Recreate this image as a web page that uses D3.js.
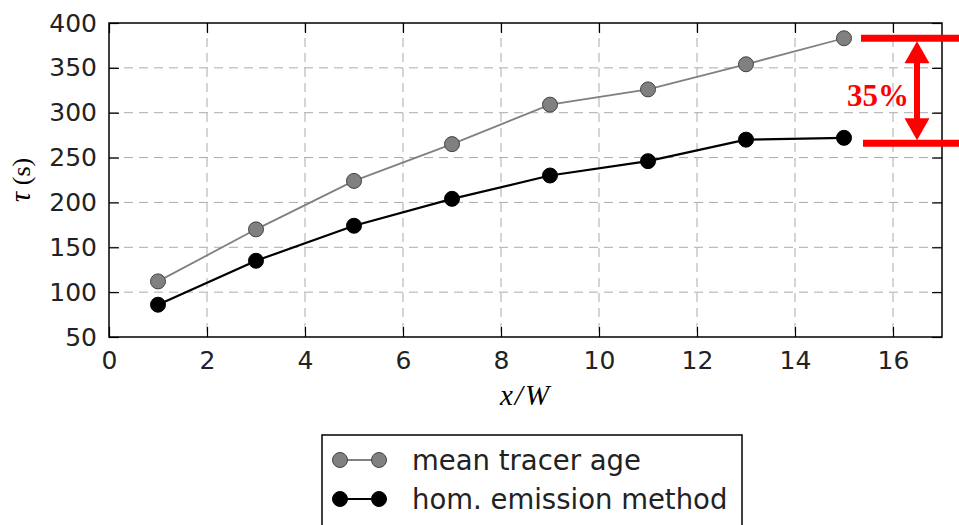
<!DOCTYPE html>
<html>
<head>
<meta charset="utf-8">
<script src="https://cdn.jsdelivr.net/npm/d3@7"></script>
<style>
  body { margin: 0; background: #fff; }
  svg { display: block; }
  .tick text { font-family: "DejaVu Sans", sans-serif; font-size: 25px; fill: #222; }
</style>
</head>
<body>
<script>
'use strict';

// data
var xPositions = [1, 3, 5, 7, 9, 11, 13, 15];
var meanTracerAge = [112, 170, 224, 265, 309, 326, 354, 383];
var homEmission = [86, 135, 174, 204, 230, 246, 270, 272];
var xTicks = [0, 2, 4, 6, 8, 10, 12, 14, 16];
var yTicks = [50, 100, 150, 200, 250, 300, 350, 400];
var seriesNames = ['mean tracer age', 'hom. emission method'];
// bracket marking the 35 % gap at x = 15
var gapTop = 383;
var gapBottom = 266;
var gapLabel = '35%';

var width = 959, height = 525;
var margin = {top: 23, right: 17, bottom: 188, left: 109};
var plotW = width - margin.left - margin.right;
var plotH = height - margin.top - margin.bottom;

var svg = d3.select('body').append('svg')
    .attr('width', width)
    .attr('height', height);

var x = d3.scaleLinear().domain([0, 17]).range([margin.left, margin.left + plotW]);
var y = d3.scaleLinear().domain([50, 400]).range([margin.top + plotH, margin.top]);

// grid lines
var grid = svg.append('g').attr('class', 'grid');
grid.selectAll('.gx')
    .data(xTicks.slice(1))
    .enter().append('line')
    .attr('x1', function(d) { return x(d); })
    .attr('x2', function(d) { return x(d); })
    .attr('y1', margin.top)
    .attr('y2', margin.top + plotH);
grid.selectAll('.gy')
    .data(yTicks.slice(1, -1))
    .enter().append('line')
    .attr('x1', margin.left)
    .attr('x2', margin.left + plotW)
    .attr('y1', function(d) { return y(d); })
    .attr('y2', function(d) { return y(d); });
grid.selectAll('line')
    .attr('stroke', '#aaa')
    .attr('stroke-width', 1)
    .attr('stroke-dasharray', '9,6');

// axes, ticks pointing inward
var bottomAxis = svg.append('g')
    .attr('transform', 'translate(0,' + (margin.top + plotH) + ')')
    .call(d3.axisBottom(x).tickValues(xTicks).tickSizeInner(-10).tickSizeOuter(0).tickPadding(14));
var leftAxis = svg.append('g')
    .attr('transform', 'translate(' + margin.left + ',0)')
    .call(d3.axisLeft(y).tickValues(yTicks).tickSizeInner(-10).tickSizeOuter(0).tickPadding(12));
var topAxis = svg.append('g')
    .attr('transform', 'translate(0,' + margin.top + ')')
    .call(d3.axisTop(x).tickValues(xTicks).tickSizeInner(-10).tickSizeOuter(0).tickFormat(''));
var rightAxis = svg.append('g')
    .attr('transform', 'translate(' + (margin.left + plotW) + ',0)')
    .call(d3.axisRight(y).tickValues(yTicks).tickSizeInner(-10).tickSizeOuter(0).tickFormat(''));
[bottomAxis, leftAxis, topAxis, rightAxis].forEach(function(a) {
    a.select('.domain').remove();
    a.selectAll('.tick line').attr('stroke', '#000').attr('stroke-width', 1.2);
});
bottomAxis.selectAll('.tick text').attr('dy', '0.72em');

// frame
svg.append('rect')
    .attr('x', margin.left)
    .attr('y', margin.top)
    .attr('width', plotW)
    .attr('height', plotH)
    .attr('fill', 'none')
    .attr('stroke', '#000')
    .attr('stroke-width', 1.5);

// series
var series = [
    {name: seriesNames[0], values: meanTracerAge, line: '#808080', lw: 1.8, fill: '#808080', edge: '#444'},
    {name: seriesNames[1], values: homEmission, line: '#000', lw: 2.2, fill: '#000', edge: '#000'}
];
var line = d3.line()
    .x(function(d) { return x(d[0]); })
    .y(function(d) { return y(d[1]); });

series.forEach(function(s) {
    var pts = xPositions.map(function(xv, i) { return [xv, s.values[i]]; });
    svg.append('path')
        .datum(pts)
        .attr('d', line)
        .attr('fill', 'none')
        .attr('stroke', s.line)
        .attr('stroke-width', s.lw);
    svg.selectAll(null)
        .data(pts)
        .enter().append('circle')
        .attr('cx', function(d) { return x(d[0]); })
        .attr('cy', function(d) { return y(d[1]); })
        .attr('r', 7.5)
        .attr('fill', s.fill)
        .attr('stroke', s.edge)
        .attr('stroke-width', 1);
});

// axis labels
svg.append('text')
    .attr('x', x(8.5))
    .attr('y', 405)
    .attr('text-anchor', 'middle')
    .attr('font-family', '"Liberation Serif", serif')
    .attr('font-style', 'italic')
    .attr('font-size', 29)
    .attr('letter-spacing', 2)
    .text('x/W');

var yl = svg.append('text')
    .attr('transform', 'translate(30,' + (margin.top + plotH / 2) + ') rotate(-90)')
    .attr('text-anchor', 'middle')
    .attr('font-family', '"Liberation Serif", serif')
    .attr('font-size', 26);
yl.append('tspan').attr('font-style', 'italic').attr('font-size', 29).text('τ');
yl.append('tspan').text(' (s)');

// red 35% bracket
var red = '#ff0000';
var bx1 = 861, bx2 = width, ax = 917;
svg.append('line').attr('x1', bx1).attr('x2', bx2)
    .attr('y1', y(gapTop)).attr('y2', y(gapTop))
    .attr('stroke', red).attr('stroke-width', 7);
svg.append('line').attr('x1', bx1 + 2).attr('x2', bx2)
    .attr('y1', y(gapBottom)).attr('y2', y(gapBottom))
    .attr('stroke', red).attr('stroke-width', 7);
var tipTop = y(gapTop) + 3, tipBot = y(gapBottom) - 3;
svg.append('line').attr('x1', ax).attr('x2', ax)
    .attr('y1', tipTop + 15).attr('y2', tipBot - 15)
    .attr('stroke', red).attr('stroke-width', 6);
svg.append('path')
    .attr('d', 'M' + ax + ',' + tipTop + 'L' + (ax + 12.5) + ',' + (tipTop + 22) + 'L' + (ax - 12.5) + ',' + (tipTop + 22) + 'Z')
    .attr('fill', red);
svg.append('path')
    .attr('d', 'M' + ax + ',' + tipBot + 'L' + (ax + 12.5) + ',' + (tipBot - 22) + 'L' + (ax - 12.5) + ',' + (tipBot - 22) + 'Z')
    .attr('fill', red);
svg.append('text')
    .attr('x', 878)
    .attr('y', 106)
    .attr('text-anchor', 'middle')
    .attr('font-family', '"Liberation Serif", serif')
    .attr('font-weight', 'bold')
    .attr('font-size', 31)
    .attr('fill', red)
    .text(gapLabel);

// legend
var legend = svg.append('g');
legend.append('rect')
    .attr('x', 322)
    .attr('y', 435)
    .attr('width', 420)
    .attr('height', 120)
    .attr('fill', '#fff')
    .attr('stroke', '#000')
    .attr('stroke-width', 1.5);
series.forEach(function(s, i) {
    var ly = 460 + i * 39;
    legend.append('line')
        .attr('x1', 340).attr('x2', 379)
        .attr('y1', ly).attr('y2', ly)
        .attr('stroke', s.line).attr('stroke-width', s.lw);
    [340, 379].forEach(function(cx) {
        legend.append('circle')
            .attr('cx', cx).attr('cy', ly).attr('r', 7.5)
            .attr('fill', s.fill).attr('stroke', s.edge).attr('stroke-width', 1);
    });
    legend.append('text')
        .attr('x', 412)
        .attr('y', ly + 10)
        .attr('font-family', '"DejaVu Sans", sans-serif')
        .attr('font-size', 27.5)
        .attr('fill', '#222')
        .text(s.name);
});
</script>
</body>
</html>
